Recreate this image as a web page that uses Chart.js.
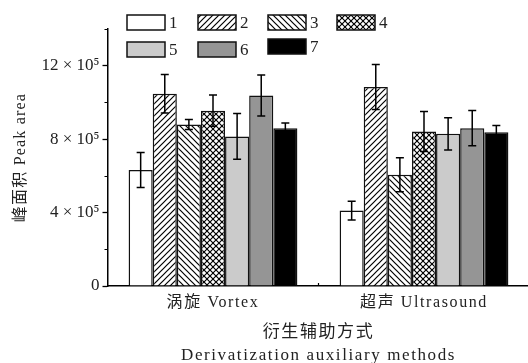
<!DOCTYPE html>
<html>
<head>
<meta charset="utf-8">
<script src="https://cdn.jsdelivr.net/npm/chart.js@4/dist/chart.umd.min.js"></script>
<style>
  html, body { margin: 0; padding: 0; background: #fff; overflow: hidden; }
  canvas { display: block; }
</style>
</head>
<body>
<canvas id="chart" width="534" height="368"></canvas>
<script>
// Derivatization aids: peak area (mean and standard deviation) per method
const categories = ['涡旋 Vortex', '超声 Ultrasound'];
const seriesNames = ['1', '2', '3', '4', '5', '6', '7'];

const area1 = [632000, 411000];
const area2 = [1047000, 1084000];
const area3 = [880000, 606000];
const area4 = [955000, 842000];
const area5 = [815000, 829000];
const area6 = [1038000, 860000];
const area7 = [860000, 838000];

const sd1 = [95000, 51000];
const sd2 = [105000, 123000];
const sd3 = [27000, 92000];
const sd4 = [85000, 109000];
const sd5 = [125000, 88000];
const sd6 = [112000, 96000];
const sd7 = [28000, 36000];

const yTickValues = [0, 400000, 800000, 1200000];
const yMinorValues = [200000, 600000, 1000000, 1400000];

const FONT = '"Liberation Serif", "Times New Roman", "Noto Sans CJK SC", serif';

// hatch fills for the patterned series
function hatch(kind) {
  const s = 6;
  const c = document.createElement('canvas');
  c.width = s; c.height = s;
  const g = c.getContext('2d');
  g.fillStyle = '#fff';
  g.fillRect(0, 0, s, s);
  g.strokeStyle = '#000';
  g.lineWidth = 1.2;
  const fwd = () => {
    g.beginPath();
    g.moveTo(-1, s + 1); g.lineTo(s + 1, -1);
    g.moveTo(-1, 1); g.lineTo(1, -1);
    g.moveTo(s - 1, s + 1); g.lineTo(s + 1, s - 1);
    g.stroke();
  };
  const back = () => {
    g.beginPath();
    g.moveTo(-1, -1); g.lineTo(s + 1, s + 1);
    g.moveTo(s - 1, -1); g.lineTo(s + 1, 1);
    g.moveTo(-1, s - 1); g.lineTo(1, s + 1);
    g.stroke();
  };
  if (kind === 'fwd' || kind === 'cross') fwd();
  if (kind === 'back' || kind === 'cross') back();
  return g.createPattern(c, 'repeat');
}

const fills = ['#ffffff', hatch('fwd'), hatch('back'), hatch('cross'), '#cbcbcb', '#959595', '#000000'];
const values = [area1, area2, area3, area4, area5, area6, area7];
const errors = [sd1, sd2, sd3, sd4, sd5, sd6, sd7];

const datasets = seriesNames.map((name, i) => ({
  label: name,
  data: values[i],
  errors: errors[i],
  backgroundColor: fills[i],
  borderColor: '#111',
  borderWidth: 1.5,
  categoryPercentage: 0.8,
  barPercentage: 1.0
}));

// error bars with caps, drawn through the value scale
const errorBars = {
  id: 'errorBars',
  afterDatasetsDraw(chart) {
    const ctx = chart.ctx;
    const y = chart.scales.y;
    ctx.save();
    ctx.strokeStyle = '#000';
    ctx.lineWidth = 1.5;
    chart.data.datasets.forEach((ds, i) => {
      const meta = chart.getDatasetMeta(i);
      meta.data.forEach((bar, j) => {
        const v = ds.data[j], e = ds.errors[j];
        const top = y.getPixelForValue(v + e);
        const bot = y.getPixelForValue(v - e);
        const x = bar.x, cap = 4;
        ctx.beginPath();
        ctx.moveTo(x, top); ctx.lineTo(x, bot);
        ctx.moveTo(x - cap, top); ctx.lineTo(x + cap, top);
        ctx.moveTo(x - cap, bot); ctx.lineTo(x + cap, bot);
        ctx.stroke();
      });
    });
    ctx.restore();
  }
};

// short minor ticks on the value axis and the group divider tick
const minorTicks = {
  id: 'minorTicks',
  afterDraw(chart) {
    const ctx = chart.ctx;
    const y = chart.scales.y, x = chart.scales.x;
    ctx.save();
    ctx.strokeStyle = '#000';
    ctx.lineWidth = 1.2;
    ctx.beginPath();
    yMinorValues.forEach(v => {
      const py = Math.round(y.getPixelForValue(v)) + 0.5;
      ctx.moveTo(y.right - 3, py); ctx.lineTo(y.right, py);
    });
    const mid = (x.getPixelForValue(0) + x.getPixelForValue(1)) / 2;
    ctx.moveTo(mid, x.top); ctx.lineTo(mid, x.top - 3);
    ctx.stroke();
    ctx.restore();
  }
};

// legend: four columns, two rows above the bars
const legendGrid = {
  id: 'legendGrid',
  afterDraw(chart) {
    const ctx = chart.ctx;
    const cols = [127, 198, 268, 337];
    const rows = [15, 42];
    const bw = 38, bh = 15;
    ctx.save();
    ctx.font = '17px ' + FONT;
    ctx.textBaseline = 'middle';
    ctx.fillStyle = '#222';
    chart.data.datasets.forEach((ds, i) => {
      const bx = cols[i % 4];
      const by = rows[Math.floor(i / 4)] - (i === 6 ? 3 : 0);
      ctx.fillStyle = ds.backgroundColor;
      ctx.fillRect(bx, by, bw, bh);
      ctx.strokeStyle = '#111';
      ctx.lineWidth = 1.5;
      ctx.strokeRect(bx, by, bw, bh);
      ctx.fillStyle = '#222';
      ctx.fillText(ds.label, bx + bw + 4, by + bh / 2 + 1);
    });
    ctx.restore();
  }
};

// spaced lettering for the axis titles and group names
const spacedText = {
  id: 'spacedText',
  afterUpdate(chart) {
    const wrap = (scale, fn, sp) => {
      if (scale['_sp_' + fn]) return;
      const orig = scale[fn];
      scale[fn] = function (...args) {
        const c = this.ctx;
        const prev = c.letterSpacing;
        c.letterSpacing = sp;
        orig.apply(this, args);
        c.letterSpacing = prev;
      };
      scale['_sp_' + fn] = true;
    };
    wrap(chart.scales.x, 'drawLabels', '1.6px');
    wrap(chart.scales.x, 'drawTitle', '1.6px');
    wrap(chart.scales.y, 'drawTitle', '1.2px');
  }
};

new Chart(document.getElementById('chart'), {
  type: 'bar',
  data: { labels: categories, datasets },
  plugins: [errorBars, minorTicks, legendGrid, spacedText],
  options: {
    responsive: false,
    animation: false,
    layout: { padding: { top: 29, right: 4.5, left: 0, bottom: 0 } },
    plugins: { legend: { display: false }, tooltip: { enabled: false } },
    scales: {
      x: {
        afterFit(s) { s.height = 82; },
        grid: { display: true, drawOnChartArea: false, drawTicks: false },
        border: { display: true, color: '#000', width: 1.5 },
        ticks: { color: '#222', padding: 7, font: { family: FONT, size: 16 } },
        title: {
          display: true,
          text: ['衍生辅助方式', 'Derivatization auxiliary methods'],
          color: '#222',
          font: { family: FONT, size: 17, lineHeight: '23px' },
          padding: { top: 0, bottom: 0.5 }
        }
      },
      y: {
        min: 0,
        max: 1400000,
        afterFit(s) { s.width = 107.5; },
        afterBuildTicks(s) { s.ticks = yTickValues.map(v => ({ value: v })); },
        grid: { drawOnChartArea: false, drawTicks: true, tickLength: 5, tickWidth: 1.3, tickColor: '#000' },
        border: { display: true, color: '#000', width: 1.5 },
        ticks: {
          color: '#222',
          padding: 3,
          font: { family: FONT, size: 17 },
          callback: v => v === 0 ? '0' : (v / 100000) + ' × 10⁵'
        },
        title: {
          display: true,
          text: '峰面积 Peak area',
          color: '#222',
          font: { family: FONT, size: 16 },
          padding: { top: 11, bottom: 0 }
        }
      }
    }
  }
});
</script>
</body>
</html>
